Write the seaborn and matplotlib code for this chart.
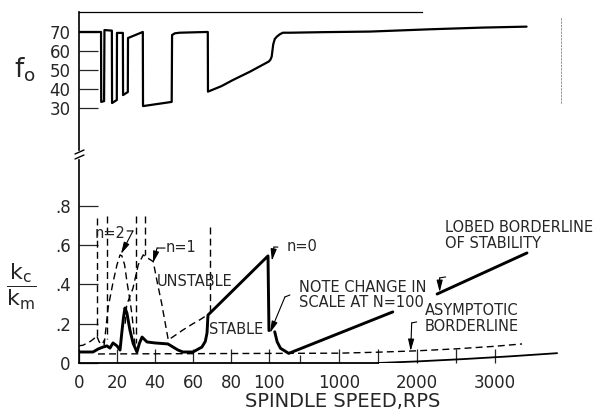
import numpy as np
import pandas as pd
import matplotlib
matplotlib.use("Agg")
import matplotlib.pyplot as plt
import seaborn as sns
from matplotlib.lines import Line2D

# ---- upper panel: f0 against spindle speed ----
f0_speed = [0, 11.6, 11.7, 13.2, 13.4, 17.3, 17.4, 19.9, 20.0, 23.1, 23.2, 25.7, 25.8,
            33.6, 33.7, 48.8, 49.0, 50.5, 53, 60, 67.8, 67.9, 75, 81, 90, 100, 120,
            135, 155, 175, 198, 240, 279, 369, 800, 1395, 2164, 2844, 3408]
f0_value = [70, 70, 33.2, 33.6, 71, 70.7, 32.6, 34.2, 69.5, 69.5, 36.8, 38.4, 66.8,
            70, 31, 33.2, 68.4, 69.3, 69.6, 69.8, 70, 38.6, 41.5, 44.7, 49.1, 54.5, 55.5,
            57, 63.5, 66.3, 67.4, 68.8, 69.6, 69.6, 69.9, 70.2, 71.4, 72.3, 72.8]

# ---- lower panel: kc/km ----
# lobed borderline of stability (solid), linear part up to N=100
lobed_speed = [0, 7.4, 10, 12.6, 14.7, 16.3, 17.9, 20, 21.6, 22.6, 23.4, 24.2, 25.2, 26.8,
               28.5, 30.5, 31.8, 33.2, 35.8, 40, 46.8, 52.1, 54.7, 60, 64.7, 66.5, 67.4,
               67.9, 99.5, 100]
lobed_ratio = [0.056, 0.056, 0.071, 0.081, 0.087, 0.076, 0.102, 0.087, 0.066, 0.16, 0.23,
               0.28, 0.255, 0.168, 0.1, 0.056, 0.1, 0.132, 0.107, 0.102, 0.097, 0.066,
               0.056, 0.056, 0.081, 0.11, 0.153, 0.244, 0.545, 0.165]
# after the change of scale at N=100 (line is broken by the note)
lobed_hi_speed_a = [174, 205, 248, 354, 1690]
lobed_hi_ratio_a = [0.159, 0.108, 0.075, 0.049, 0.26]
lobed_hi_speed_b = [2259, 3413]
lobed_hi_ratio_b = [0.351, 0.56]

# dashed lobes
lobe2_speed = [13.2, 14.2, 15.3, 17.9, 20, 21.6, 22.6, 24, 25.3, 26.8, 27.9, 29.5]
lobe2_ratio = [0.09, 0.18, 0.28, 0.41, 0.5, 0.55, 0.545, 0.5, 0.41, 0.32, 0.245, 0.09]
lobe1_speed = [24.3, 25.1, 28.4, 31.2, 33.8, 36, 39.1, 41, 43.5, 47, 50.5, 54.7, 60, 64, 67.4]
lobe1_ratio = [0.2, 0.295, 0.38, 0.5, 0.55, 0.535, 0.516, 0.42, 0.304, 0.117, 0.14, 0.168,
               0.2, 0.222, 0.244]
lobe_hn_speed = [0, 2, 4, 6, 8, 9.3, 10.5, 11.5, 12.5, 13.5]
lobe_hn_ratio = [0.088, 0.09, 0.1, 0.11, 0.125, 0.14, 0.11, 0.095, 0.1, 0.12]

# vertical dashed asymptotes
asym_speed = [9.5, 14.7, 30.0, 34.7, 68.9]
asym_top = [0.74, 0.75, 0.75, 0.75, 0.69]
asym_bottom = [0.13, 0.12, 0.1, 0.55, 0.24]

# asymptotic borderline (dashed) and bottom solid line
asympt_speed = [10, 1000, 1500, 2000, 2500, 3000, 3350]
asympt_ratio = [0.046, 0.05, 0.055, 0.062, 0.072, 0.085, 0.097]
base_speed = [1500, 2000, 2600, 3200, 3800]
base_ratio = [0.0, 0.008, 0.02, 0.034, 0.05]

x_ticks = [0, 20, 40, 60, 80, 100, 1000, 1500, 2000, 2500, 3000]
x_labels = ["0", "20", "40", "60", "80", "100", "1000", "", "2000", "", "3000"]
f0_ticks = [30, 40, 50, 60, 70]
k_ticks = [0, 0.2, 0.4, 0.6, 0.8]
k_labels = ["0", ".2", ".4", ".6", ".8"]

# piecewise linear speed axis: scale compressed above 100 rps
R = 0.041


def fwd(x):
    x = np.asarray(x, dtype=float)
    return np.where(x <= 100, x, 100 + (x - 100) * R)


def inv(y):
    y = np.asarray(y, dtype=float)
    return np.where(y <= 100, y, 100 + (y - 100) / R)


sns.set_style("white")
plt.rcParams["font.family"] = ["DejaVu Sans"]
plt.rcParams["mathtext.fontset"] = "dejavusans"

W, H = 594, 415
fig = plt.figure(figsize=(W / 100, H / 100), dpi=100)
L, Rt = 79 / W, 561 / W
ax_top = fig.add_axes([L, 1 - 150 / H, Rt - L, (150 - 12) / H])
ax = fig.add_axes([L, 1 - 363 / H, Rt - L, (363 - 160) / H])

for a in (ax_top, ax):
    a.set_xscale("function", functions=(fwd, inv))
    a.set_xlim(0, 3850)
    a.set_facecolor("white")

# ---- top panel ----
sns.lineplot(x=f0_speed, y=f0_value, ax=ax_top, sort=False, estimator=None,
             color="black", lw=1.6)
ax_top.set_ylim(7.9, 80.5)
ax_top.set_yticks(f0_ticks)
ax_top.set_yticklabels([str(t) for t in f0_ticks], fontsize=12)
ax_top.tick_params(axis="y", direction="in", length=14, width=0.9, pad=6, left=True)
ax_top.tick_params(axis="x", bottom=False, labelbottom=False)
ax_top.spines["bottom"].set_visible(False)
ax_top.spines["left"].set_linewidth(1.2)
ax_top.spines["top"].set_linewidth(0.9)
ax_top.spines["top"].set_bounds(0, 2070)
ax_top.spines["right"].set_linestyle((0, (2, 2)))
ax_top.spines["right"].set_linewidth(0.6)
ax_top.spines["right"].set_color("#888888")
ax_top.spines["right"].set_bounds(32.6, 77.9)
for s in ax_top.spines.values():
    if s is not ax_top.spines["right"]:
        s.set_color("black")
ax_top.set_ylabel(r"$\mathregular{f_o}$", fontsize=19, rotation=0, ha="center", va="center")
ax_top.yaxis.set_label_coords(-0.112, 0.58)

# ---- bottom panel ----
dash = (0, (5, 3))
for xs, ys in [(lobe2_speed, lobe2_ratio), (lobe1_speed, lobe1_ratio),
               (lobe_hn_speed, lobe_hn_ratio), (asympt_speed, asympt_ratio)]:
    sns.lineplot(x=xs, y=ys, ax=ax, sort=False, estimator=None, color="black",
                 lw=1.0, linestyle=dash)
for xv, top, bot in zip(asym_speed, asym_top, asym_bottom):
    sns.lineplot(x=[xv, xv], y=[top, bot], ax=ax, sort=False, estimator=None,
                 color="black", lw=1.0, linestyle=dash)

for xs, ys in [(lobed_speed, lobed_ratio), (lobed_hi_speed_a, lobed_hi_ratio_a),
               (lobed_hi_speed_b, lobed_hi_ratio_b)]:
    sns.lineplot(x=xs, y=ys, ax=ax, sort=False, estimator=None, color="black", lw=2.1)
sns.lineplot(x=base_speed, y=base_ratio, ax=ax, sort=False, estimator=None,
             color="black", lw=1.3)

ax.set_ylim(0, 1.033)
ax.set_yticks(k_ticks)
ax.set_yticklabels(k_labels, fontsize=12)
ax.set_xticks(x_ticks)
ax.set_xticklabels(x_labels, fontsize=12)
ax.set_xticks([500], minor=True)
ax.tick_params(axis="y", direction="in", length=14, width=0.9, pad=6, left=True)
ax.tick_params(axis="x", direction="in", length=10, width=0.9, pad=8, bottom=True)
ax.tick_params(axis="x", which="minor", direction="in", length=6, width=0.9, bottom=True)
for side in ("top", "right"):
    ax.spines[side].set_visible(False)
ax.spines["left"].set_linewidth(1.2)
ax.spines["bottom"].set_linewidth(1.3)
ax.spines["bottom"].set_bounds(0, 1500)
ax.spines["left"].set_color("black")
ax.spines["bottom"].set_color("black")

ax.set_xlabel("SPINDLE SPEED,RPS", fontsize=14, va="center")
ax.xaxis.set_label_coords(0.548, -0.19)
ax.set_ylabel(r"$\dfrac{\mathrm{k_c}}{\mathrm{k_m}}$", fontsize=16, rotation=0,
              ha="center", va="center")
ax.yaxis.set_label_coords(-0.12, 0.374)

# ---- text and pointer arrows ----
fs = 10.5
ax.text(16.3, 0.66, "n=2", fontsize=fs, ha="center", va="center")
ax.text(53.7, 0.59, "n=1", fontsize=fs, ha="center", va="center")
ax.text(61, 0.417, "UNSTABLE", fontsize=fs, ha="center", va="center")
ax.text(82.6, 0.173, "STABLE", fontsize=fs, ha="center", va="center")
ax.text(523, 0.595, "n=0", fontsize=fs, ha="center", va="center")
ax.text(485, 0.346, "NOTE CHANGE IN\nSCALE AT N=100", fontsize=fs, ha="left",
        va="center", linespacing=1.05)
ax.text(2356, 0.649, "LOBED BORDERLINE\nOF STABILITY", fontsize=fs, ha="left",
        va="center", linespacing=1.05)
ax.text(2100, 0.226, "ASYMPTOTIC\nBORDERLINE", fontsize=fs, ha="left",
        va="center", linespacing=1.05)

arrow = dict(arrowstyle="-|>,head_length=0.7,head_width=0.18", color="black",
             lw=0.8, shrinkA=0, shrinkB=0)
plain = dict(arrowstyle="-", color="black", lw=0.8, shrinkA=0, shrinkB=0)
pointers = [
    # (hook end, corner, tip)
    ((25.3, 0.672), (28.4, 0.672), (22.1, 0.555)),
    ((45.3, 0.585), (41.1, 0.585), (38.9, 0.509)),
    ((215, 0.59), (164, 0.59), (138, 0.52)),
    ((369, 0.346), (305, 0.336), (113, 0.153)),
    ((2369, 0.438), (2292, 0.433), (2292, 0.361)),
    ((1997, 0.209), (1933, 0.204), (1920, 0.061)),
]
for end, corner, tip in pointers:
    ax.annotate("", xy=end, xytext=corner, arrowprops=plain)
    ax.annotate("", xy=tip, xytext=corner, arrowprops=arrow)

# axis break marks on the left spine
for y0 in (154, 159):
    fig.add_artist(Line2D([75 / W, 84 / W], [1 - y0 / H, 1 - (y0 - 4) / H],
                          transform=fig.transFigure, color="black", lw=1.0))

fig.savefig("out.png", dpi=100, facecolor="white")
